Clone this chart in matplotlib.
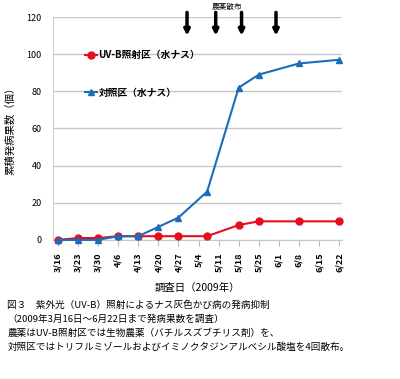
import numpy as np
import matplotlib
matplotlib.use('Agg')
import matplotlib.pyplot as plt
import matplotlib.dates as mdates
from datetime import datetime

plt.rcParams['font.family'] = ['Noto Sans CJK JP', 'DejaVu Sans']

dates = ['2009-03-16', '2009-03-23', '2009-03-30', '2009-04-06', '2009-04-13',
         '2009-04-20', '2009-04-27', '2009-05-07', '2009-05-18', '2009-05-25',
         '2009-06-08', '2009-06-22']
uvb = [0, 1, 1, 2, 2, 2, 2, 2, 8, 10, 10, 10]
control = [0, 0, 0, 2, 2, 7, 12, 26, 82, 89, 95, 97]
spray_dates = ['2009-04-30', '2009-05-10', '2009-05-19', '2009-05-31']
tick_dates = ['2009-03-16', '2009-03-23', '2009-03-30', '2009-04-06', '2009-04-13',
              '2009-04-20', '2009-04-27', '2009-05-04', '2009-05-11', '2009-05-18',
              '2009-05-25', '2009-06-01', '2009-06-08', '2009-06-15', '2009-06-22']
tick_labels = ['3/16', '3/23', '3/30', '4/6', '4/13', '4/20', '4/27', '5/4',
               '5/11', '5/18', '5/25', '6/1', '6/8', '6/15', '6/22']

caption = ['図３　紫外光（UV-B）照射によるナス灰色かび病の発病抑制',
           '（2009年3月16日～6月22日まで発病果数を調査）',
           '農薬はUV-B照射区では生物農薬（バチルスズブチリス剤）を、',
           '対照区ではトリフルミゾールおよびイミノクタジンアルベシル酸塩を4回散布。']

def d(s):
    return mdates.date2num(datetime.strptime(s, '%Y-%m-%d'))

x = [d(s) for s in dates]
red = '#e3101c'
blue = '#1c6cbc'

fig = plt.figure(figsize=(4, 3.79), dpi=100)
ax = fig.add_axes([0.1325, 0.367, 0.7225, 0.588])

l1, = ax.plot(x, uvb, color=red, lw=1.5, marker='o', ms=5, clip_on=False, zorder=3,
              label='UV-B照射区（水ナス）')
l2, = ax.plot(x, control, color=blue, lw=1.5, marker='^', ms=5, clip_on=False, zorder=3,
              label='対照区（水ナス）')

ax.set_ylim(0, 120)
ax.set_yticks(range(0, 121, 20))
ax.set_xlim(d('2009-03-16') - 1.7, d('2009-06-22') + 1.0)
ax.set_xticks([d(s) for s in tick_dates])
ax.set_xticklabels(tick_labels, rotation=90, fontsize=6.5, fontweight='bold')
ax.tick_params(axis='y', labelsize=6.5, length=0, pad=8)
ax.tick_params(axis='x', length=4, color='#bbbbbb', pad=5)
ax.grid(axis='y', color='#c8c8c8', lw=1)
ax.set_axisbelow(True)
for s in ['top', 'right']:
    ax.spines[s].set_visible(False)
ax.spines['left'].set_color('#d0d0d0')
ax.spines['bottom'].set_color('#c8c8c8')

ax.set_ylabel('累積発病果数（個）', fontsize=7.5, labelpad=8)
ax.set_xlabel('調査日（2009年）', fontsize=7.5, labelpad=8)

leg = ax.legend(handles=[l1, l2], loc='upper left', bbox_to_anchor=(0.08, 0.89),
                frameon=False, fontsize=7, labelspacing=2.8, handlelength=1.2,
                handletextpad=0.2)
for t in leg.get_texts():
    t.set_fontweight('bold')

for s in spray_dates:
    ax.annotate('', xy=(d(s), 110), xytext=(d(s), 122.5),
                arrowprops=dict(arrowstyle='-|>', color='black', lw=2.5,
                                mutation_scale=8, shrinkA=0, shrinkB=0),
                annotation_clip=False)
ax.text(d('2009-05-14'), 123, '農薬散布', ha='center', va='bottom', fontsize=5.5)

y0 = 0.196
for i, line in enumerate(caption):
    fig.text(0.018, y0 - i * 0.037, line, fontsize=6.9, ha='left', va='center')

fig.savefig('out.png', dpi=100)
